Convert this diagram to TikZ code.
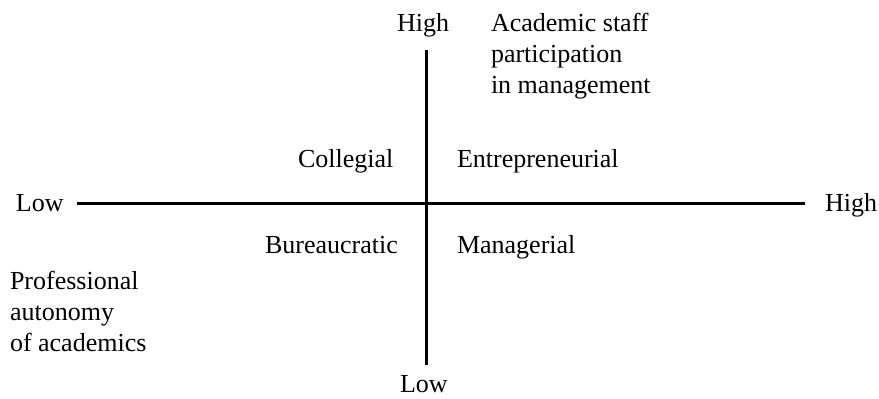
\documentclass[tikz,border=0pt]{standalone}
\usepackage{fontspec}
\setmainfont{Liberation Serif}
\begin{document}
\begin{tikzpicture}[x=1pt,y=-1pt,
  lbl/.style={inner sep=0pt,outer sep=0pt,anchor=base west,align=left,
    font=\fontsize{26}{31}\selectfont},
  axis/.style={line width=3pt}]
\useasboundingbox (0,0) rectangle (879,399);
% axis end points
\coordinate (yTop) at (426,50);
\coordinate (yBot) at (426,365);
\coordinate (xLeft) at (77,203);
\coordinate (xRight) at (805,203);
\draw[axis] (yTop) -- (yBot);
\draw[axis] (xLeft) -- (xRight);
% axis labels (multi-line nodes sit on the baseline of their last line)
\node[lbl] (yHigh) at (397,31) {High};
\node[lbl] (yLow) at (400,392) {Low};
\node[lbl] (xLow) at (16,211) {Low};
\node[lbl] (xHigh) at (825,211) {High};
\node[lbl] (yTitle) at (491,93) {Academic staff\\participation\\in management};
\node[lbl] (xTitle) at (10,351) {Professional\\autonomy\\of academics};
% quadrant labels
\node[lbl] (coll) at (298,167) {Collegial};
\node[lbl] (entr) at (457,167) {Entrepreneurial};
\node[lbl] (bur) at (265,253) {Bureaucratic};
\node[lbl] (man) at (457,253) {Managerial};
\end{tikzpicture}
\end{document}
